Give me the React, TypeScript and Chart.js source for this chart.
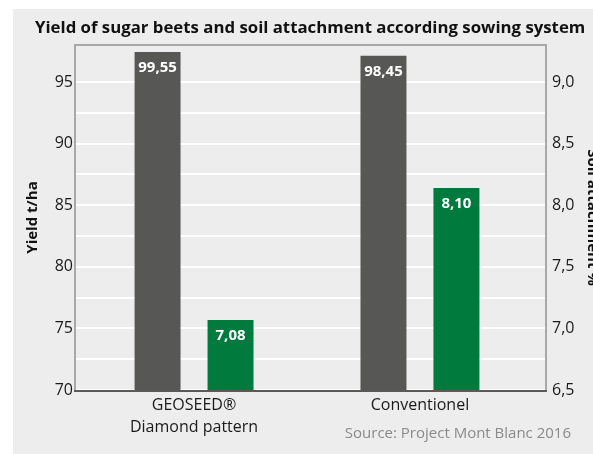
import React, { useEffect, useRef } from 'react';
import { Chart, registerables } from 'chart.js';

Chart.register(...registerables);

// ---- data ----
const categories: string[][] = [['GEOSEED®', 'Diamond pattern'], ['Conventionel']];
const yieldValues: number[] = [99.55, 98.45];
const soilValues: number[] = [7.08, 8.1];
const leftTickLabels: number[] = [70, 75, 80, 85, 90, 95];
const rightTickLabels: number[] = [6.5, 7.0, 7.5, 8.0, 8.5, 9.0];

const titleText = 'Yield of sugar beets and soil attachment according sowing system';
const sourceText = 'Source: Project Mont Blanc 2016';
const leftAxisTitle = 'Yield t/ha';
const rightAxisTitle = 'Soil attachment %';

const FONT = '"Open Sans", "Noto Sans", sans-serif';

const fmt = (v: number, d: number) => v.toFixed(d).replace('.', ',');
const near = (a: number, b: number) => Math.abs(a - b) < 1e-6;

const annotate = {
  id: 'annotate',
  afterDatasetsDraw(chart: any) {
    const { ctx, chartArea: a } = chart;
    ctx.save();
    // frame
    ctx.lineWidth = 2;
    ctx.strokeStyle = '#a8a8a8';
    ctx.beginPath();
    ctx.moveTo(a.left, a.bottom);
    ctx.lineTo(a.left, a.top);
    ctx.lineTo(a.right, a.top);
    ctx.lineTo(a.right, a.bottom);
    ctx.stroke();
    ctx.strokeStyle = '#5a5a5a';
    ctx.beginPath();
    ctx.moveTo(a.left - 1, a.bottom + 1);
    ctx.lineTo(a.right + 1, a.bottom + 1);
    ctx.stroke();

    // value labels
    ctx.font = `bold 15px ${FONT}`;
    ctx.fillStyle = '#ffffff';
    ctx.textAlign = 'center';
    ctx.textBaseline = 'middle';
    chart.data.datasets.forEach((ds: any, di: number) => {
      const meta = chart.getDatasetMeta(di);
      meta.data.forEach((el: any, i: number) => {
        const v = ds.data[i].y;
        ctx.fillText(fmt(v, 2), el.x, el.y + 16);
      });
    });
    ctx.restore();
  },
  afterDraw(chart: any) {
    const { ctx } = chart;
    ctx.save();
    ctx.textBaseline = 'alphabetic';
    ctx.textAlign = 'left';
    ctx.fillStyle = '#111111';
    ctx.font = `bold 16.8px ${FONT}`;
    ctx.fillText(titleText, 35, 33);
    ctx.textAlign = 'right';
    ctx.fillStyle = '#8a8a8a';
    ctx.font = `15px ${FONT}`;
    ctx.fillText(sourceText, 571, 438);
    ctx.restore();
  },
};

export default function App() {
  const ref = useRef<HTMLCanvasElement | null>(null);

  useEffect(() => {
    if (!ref.current) return;
    const chart = new Chart(ref.current, {
      type: 'bar',
      data: {
        datasets: [
          {
            label: leftAxisTitle,
            data: yieldValues.map((y, i) => ({ x: i, y })),
            backgroundColor: '#575756',
            yAxisID: 'yb',
            categoryPercentage: 0.646,
            barPercentage: 0.63,
          },
          {
            label: rightAxisTitle,
            data: soilValues.map((y, i) => ({ x: i, y })),
            backgroundColor: '#007a3d',
            yAxisID: 'yg',
            categoryPercentage: 0.646,
            barPercentage: 0.63,
          },
        ] as any,
      },
      options: {
        responsive: false,
        animation: false,
        devicePixelRatio: 1,
        layout: { padding: { top: 45, left: 0, right: 0, bottom: 0 } },
        plugins: {
          legend: { display: false },
          title: { display: false },
          tooltip: { enabled: false },
        },
        scales: {
          x: {
            type: 'linear',
            position: 'bottom',
            offset: false,
            min: -0.527,
            max: 1.558,
            afterBuildTicks: (s: any) => {
              s.ticks = categories.map((_, i) => ({ value: i }));
            },
            afterFit: (s: any) => {
              s.height = 64;
            },
            grid: { display: false, drawTicks: false, offset: false },
            border: { display: false },
            ticks: {
              autoSkip: false,
              maxRotation: 0,
              padding: 4,
              color: '#1a1a1a',
              font: { family: FONT, size: 16, lineHeight: 1.375 },
              callback: (v: any) => categories[Math.round(Number(v))] ?? '',
            },
          },
          y: {
            type: 'linear',
            position: 'left',
            min: 70,
            max: 98,
            afterFit: (s: any) => {
              s.width = 75;
            },
            grid: { color: '#ffffff', lineWidth: 2, drawTicks: false },
            border: { display: false },
            ticks: {
              stepSize: 2.5,
              padding: 2,
              color: '#1a1a1a',
              font: { family: FONT, size: 16 },
              callback: (v: any) => (leftTickLabels.some((t) => near(t, Number(v))) ? String(v) : ''),
            },
            title: {
              display: true,
              text: leftAxisTitle,
              color: '#111111',
              font: { family: FONT, size: 15, weight: 'bold' },
              padding: { top: 24, bottom: 0 },
            },
          },
          y1: {
            type: 'linear',
            position: 'right',
            min: 6.5,
            max: 9.3,
            afterFit: (s: any) => {
              s.width = 64;
            },
            grid: { display: false, drawTicks: false },
            border: { display: false },
            ticks: {
              stepSize: 0.5,
              padding: 6,
              color: '#1a1a1a',
              font: { family: FONT, size: 16 },
              callback: (v: any) => {
                const n = Number(v);
                return rightTickLabels.some((t) => near(t, n)) ? fmt(n, 1) : '';
              },
            },
            title: {
              display: true,
              text: rightAxisTitle,
              color: '#111111',
              font: { family: FONT, size: 15, weight: 'bold' },
              padding: { top: 9, bottom: 0 },
            },
          },
          yb: {
            type: 'linear',
            display: false,
            min: 0,
            max: 101.6,
          },
          yg: {
            type: 'linear',
            display: false,
            min: 6.54,
            max: 9.205,
          },
        },
      } as any,
      plugins: [annotate],
    });
    return () => chart.destroy();
  }, []);

  return (
    <div
      style={{
        position: 'absolute',
        left: 0,
        top: 0,
        width: 593,
        height: 454,
        overflow: 'hidden',
        background: '#ffffff',
      }}
    >
      <div
        style={{
          position: 'absolute',
          left: 13,
          top: 9,
          right: 0,
          bottom: 0,
          background: '#ededed',
        }}
      />
      <canvas
        ref={ref}
        width={610}
        height={454}
        style={{ position: 'absolute', left: 0, top: 0, width: 610, height: 454 }}
      />
    </div>
  );
}
